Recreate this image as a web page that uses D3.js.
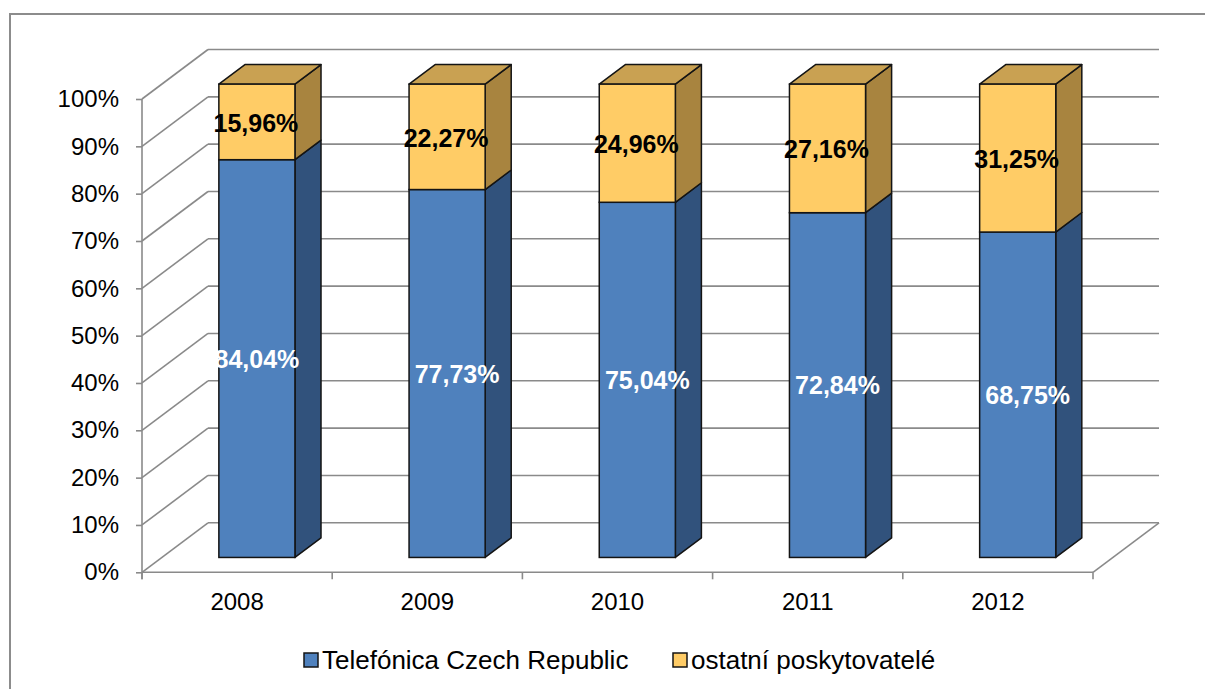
<!DOCTYPE html>
<html>
<head>
<meta charset="utf-8">
<script src="https://cdn.jsdelivr.net/npm/d3@7"></script>
<style>
  html, body { margin: 0; padding: 0; background: #fff; }
  svg { display: block; font-family: "Liberation Sans", Arial, sans-serif; }
</style>
</head>
<body>
<svg id="chart" width="1205" height="689"></svg>
<script>
// ---- data ----
const years = ["2008", "2009", "2010", "2011", "2012"];
const telefonica = [84.04, 77.73, 75.04, 72.84, 68.75];
const ostatni = [15.96, 22.27, 24.96, 27.16, 31.25];
const seriesNames = ["Telefónica Czech Republic", "ostatní poskytovatelé"];
const yTicks = [0, 10, 20, 30, 40, 50, 60, 70, 80, 90, 100];

// ---- layout ----
const W = 1205, H = 689;
const DX = 66, DY = 49.5;          // depth of the 3D floor
const F0 = 0.3, F1 = 0.695;        // bar depth span (fraction of floor depth)
const colors = {
  blueFront: "#4F81BD", blueSide: "#31527C", blueTop: "#3F6797",
  yelFront: "#FFCC66", yelSide: "#A8843F", yelTop: "#C9A152"
};
const gridColor = "#8a8a8a";

const svg = d3.select("#chart");

// outer border
svg.append("rect").attr("x", 10).attr("y", 14).attr("width", W + 20).attr("height", H + 20)
  .attr("fill", "none").attr("stroke", "#8c8c8c").attr("stroke-width", 2);

const x = d3.scaleBand().domain(years).range([142, 1093]).paddingInner(0).paddingOuter(0);
const y = d3.scaleLinear().domain([0, 100]).range([572.3, 99]);
const bw = x.bandwidth();
const barW = bw * 0.4;
const x0 = x.range()[0], x1 = x.range()[1];

const g = svg.append("g");

// back wall gridlines + side wall diagonals
yTicks.forEach(t => {
  const yf = y(t);
  g.append("line").attr("x1", x0).attr("y1", yf).attr("x2", x0 + DX).attr("y2", yf - DY)
    .attr("stroke", gridColor).attr("stroke-width", 1.6);
  g.append("line").attr("x1", x0 + DX).attr("y1", yf - DY).attr("x2", x1 + DX).attr("y2", yf - DY)
    .attr("stroke", gridColor).attr("stroke-width", 1.6);
});
// floor front edge and right edge
g.append("line").attr("x1", x0).attr("y1", y(0)).attr("x2", x1).attr("y2", y(0))
  .attr("stroke", gridColor).attr("stroke-width", 1.6);
g.append("line").attr("x1", x1).attr("y1", y(0)).attr("x2", x1 + DX).attr("y2", y(0) - DY)
  .attr("stroke", gridColor).attr("stroke-width", 1.6);

// category boundary ticks
const bounds = years.map(d => x(d)).concat([x1]);
bounds.forEach(bx => {
  g.append("line").attr("x1", bx).attr("y1", y(0)).attr("x2", bx).attr("y2", y(0) + 7)
    .attr("stroke", gridColor).attr("stroke-width", 1.6);
});
// vertical axis line extension
g.append("line").attr("x1", x0).attr("y1", y(100)).attr("x2", x0).attr("y2", y(0) + 7)
  .attr("stroke", gridColor).attr("stroke-width", 1.6);

// y axis (ticks + labels)
const yAxis = d3.axisLeft(y).tickValues(yTicks).tickSize(6).tickSizeOuter(0)
  .tickFormat(d => d + "%").tickPadding(17);
const ya = svg.append("g").attr("transform", `translate(${x0},0)`).call(yAxis);
ya.select(".domain").remove();
ya.selectAll(".tick line").attr("stroke", gridColor).attr("stroke-width", 1.6);
ya.selectAll(".tick text").attr("font-size", 24).attr("fill", "#000")
  .attr("font-family", "'Liberation Sans', Arial, sans-serif");

// x axis labels
const xAxis = d3.axisBottom(x).tickSize(0).tickPadding(21);
const xa = svg.append("g").attr("transform", `translate(0,${y(0)})`).call(xAxis);
xa.select(".domain").remove();
xa.selectAll(".tick text").attr("font-size", 24).attr("fill", "#000")
  .attr("font-family", "'Liberation Sans', Arial, sans-serif");

// bars
const bdx = (F1 - F0) * DX, bdy = (F1 - F0) * DY;
const stroke = "#141414", sw = 1.5;
const fmt = v => d3.format(".2f")(v).replace(".", ",") + "%";

function box(gg, left, v0, v1, front, side, top, drawTop) {
  const yb = y(v0) - F0 * DY, yt = y(v1) - F0 * DY;
  const right = left + barW;
  // right face
  gg.append("path").attr("d",
    `M${right},${yt} L${right + bdx},${yt - bdy} L${right + bdx},${yb - bdy} L${right},${yb} Z`)
    .attr("fill", side).attr("stroke", stroke).attr("stroke-width", sw).attr("stroke-linejoin", "round");
  if (drawTop) {
    gg.append("path").attr("d",
      `M${left},${yt} L${left + bdx},${yt - bdy} L${right + bdx},${yt - bdy} L${right},${yt} Z`)
      .attr("fill", top).attr("stroke", stroke).attr("stroke-width", sw).attr("stroke-linejoin", "round");
  }
  gg.append("rect").attr("x", left).attr("y", yt).attr("width", barW).attr("height", yb - yt)
    .attr("fill", front).attr("stroke", stroke).attr("stroke-width", sw);
  return { yb, yt };
}

const bars = svg.append("g");
years.forEach((yr, i) => {
  const left = x(yr) + (bw - barW) / 2 + F0 * DX;
  const gg = bars.append("g");
  const b1 = box(gg, left, 0, telefonica[i], colors.blueFront, colors.blueSide, colors.blueTop, false);
  const b2 = box(gg, left, telefonica[i], telefonica[i] + ostatni[i], colors.yelFront, colors.yelSide, colors.yelTop, true);
  const cx = left + barW / 2;
  const fs = 25;
  gg.append("text").attr("x", cx + (i === 0 ? 0 : 10)).attr("y", (b1.yb + b1.yt) / 2 + fs * 0.36)
    .attr("text-anchor", "middle").attr("font-size", fs).attr("font-weight", "bold")
    .attr("fill", "#fff").text(fmt(telefonica[i]));
  gg.append("text").attr("x", cx - 1).attr("y", (b2.yb + b2.yt) / 2 + fs * 0.36 + 1)
    .attr("text-anchor", "middle").attr("font-size", fs).attr("font-weight", "bold")
    .attr("fill", "#000").text(fmt(ostatni[i]));
});

// legend
const legend = svg.append("g");
const legItems = [
  { name: seriesNames[0], color: colors.blueFront, sx: 304 },
  { name: seriesNames[1], color: colors.yelFront, sx: 673 }
];
legItems.forEach(it => {
  legend.append("rect").attr("x", it.sx).attr("y", 653).attr("width", 14).attr("height", 14)
    .attr("fill", it.color).attr("stroke", "#141414").attr("stroke-width", 1.5);
  legend.append("text").attr("x", it.sx + 18).attr("y", 660 + 26 * 0.36)
    .attr("font-size", 26).attr("fill", "#000").text(it.name);
});
</script>
</body>
</html>
